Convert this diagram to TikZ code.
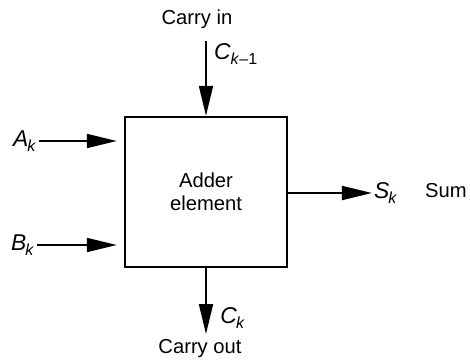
\documentclass[tikz,border=0pt]{standalone}
\usepackage{fontspec}
\setmainfont{Liberation Sans}
\usepackage{tikz}
\usetikzlibrary{arrows.meta, positioning}

\newcommand{\sig}[2]{\textit{#1}\textsubscript{\kern-0.5pt\textit{#2}}}

\begin{document}
\begin{tikzpicture}[
    x=0.02cm, y=-0.02cm,
    font=\fontsize{11.5}{13}\selectfont,
    element/.style={
        draw,
        line width=1.4pt,
        align=center,
        minimum width=3.24cm,
        minimum height=3cm
    },
    caption/.style={
        inner sep=1pt
    },
    signal/.style={
        inner sep=1pt,
        font=\fontsize{13}{15}\selectfont
    },
    arrow/.style={-{Triangle[length=0.6cm, width=0.28cm]}, line width=1.1pt}
]

\useasboundingbox (0,0) rectangle (470,362);

\node[element] (adder) at (206,192) {Adder\\element};

\node[caption] (carryin) at (197,19) {Carry in};
\coordinate (cinstart) at (206,41);
\node[signal, anchor=west] (cprev) at (212,54) {\textit{C}\textsubscript{\textit{k}–1}};

\node[signal] (ak) at (25,141) {\sig{A}{k}};
\node[signal] (bk) at (23,245) {\sig{B}{k}};

\node[signal] (sk) at (386,193) {\sig{S}{k}};
\node[caption] (sum) at (446,191) {Sum};

\coordinate (coutend) at (206,334);
\node[signal] (ck) at (233,318) {\sig{C}{k}};
\node[caption] (carryout) at (200,349) {Carry out};

\draw[arrow] (cinstart) -- (adder.north);
\draw[arrow, shorten >=4pt] (ak) -- (ak -| adder.west);
\draw[arrow, shorten >=4pt] (bk) -- (bk -| adder.west);
\draw[arrow] (adder.east |- sk) -- (sk);
\draw[arrow] (adder.south) -- (coutend);

\end{tikzpicture}
\end{document}
